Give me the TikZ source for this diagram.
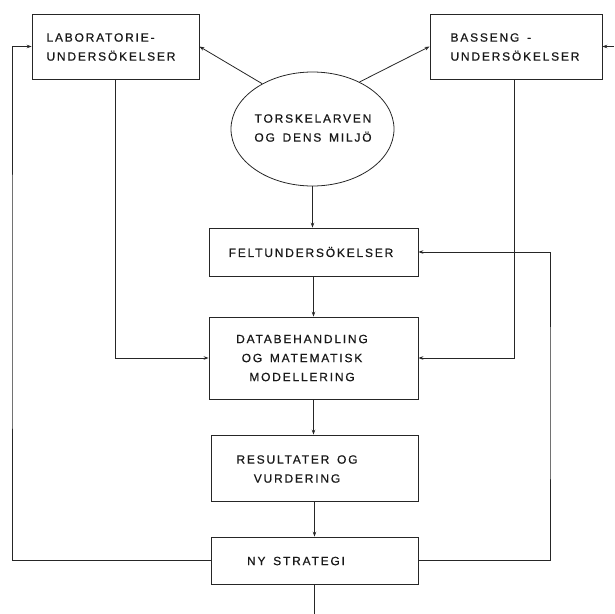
\documentclass[tikz,border=0pt]{standalone}
\usepackage{fontspec}
\setmainfont{Liberation Sans}
\newfontfamily\stencil[LetterSpace=15, WordSpace=1.5, FakeBold=0.6]{Liberation Sans}
\usetikzlibrary{arrows.meta,shapes.geometric}
\begin{document}
\begin{tikzpicture}[x=1pt,y=-1pt,
  line width=0.8pt, draw=black!85,
  box/.style={draw, rectangle, inner sep=0pt},
  oval/.style={draw, ellipse, inner sep=0pt},
  txt/.style={font=\stencil\fontsize{12}{19}\selectfont, align=center, inner sep=0pt, text=black!90},
  arr/.style={-{Stealth[length=5pt,width=3.6pt]}}]
\useasboundingbox (0,0) rectangle (614,614);
% boxes
\node[box, minimum width=167pt, minimum height=65pt] (lab) at (115.5,46.5) {};
\node[box, minimum width=172pt, minimum height=65pt] (bas) at (516,46.5) {};
\node[oval, minimum width=163pt, minimum height=114pt] (ell) at (312.5,129) {};
\node[box, minimum width=209pt, minimum height=48pt] (felt) at (313.5,252) {};
\node[box, minimum width=209pt, minimum height=82pt] (data) at (313.5,358) {};
\node[box, minimum width=207pt, minimum height=66pt] (res) at (314.5,468) {};
\node[box, minimum width=207pt, minimum height=47pt] (ny) at (314.5,560.5) {};
% texts
\node[txt, align=left] (labt) at (111,47) {LABORATORIE-\\UNDERSÖKELSER};
\node[txt, align=left] (bast) at (515,47) {BASSENG -\\UNDERSÖKELSER};
\node[txt] (ellt) at (313,128) {TORSKELARVEN\\OG DENS MILJÖ};
\node[txt] (feltt) at (311,252) {FELTUNDERSÖKELSER};
\node[txt] (datat) at (302,358) {DATABEHANDLING\\OG MATEMATISK\\MODELLERING};
\node[txt] (rest) at (297,469) {RESULTATER OG\\VURDERING};
\node[txt] (nyt) at (296,561) {NY STRATEGI};
% coordinates
\coordinate (lx) at (12,300);
\coordinate (rx) at (550,400);
\coordinate (re) at (614,46.5);
\coordinate (bot) at (314.5,614);
% connectors
\draw[arr] (ell.138) -- (lab.east);
\draw[arr] (ell.45) -- (bas.west);
\draw[arr] (re) -- (bas.east);
\draw[arr] (ell.south) -- (ell.south |- felt.north);
\draw[arr] (felt.south) -- (felt.south |- data.north);
\draw[arr] (data.south) -- (data.south |- res.north);
\draw[arr] (res.south) -- (res.south |- ny.north);
\draw (ny.south) -- (bot);
\draw[arr] (lab.south) |- (data.west);
\draw[arr] ([xshift=-2pt]bas.south) |- (data.east);
\draw[arr] (ny.west) -| (lx) |- (lab.west);
\draw[arr] (ny.east) -| (rx) |- (felt.east);
\end{tikzpicture}
\end{document}
